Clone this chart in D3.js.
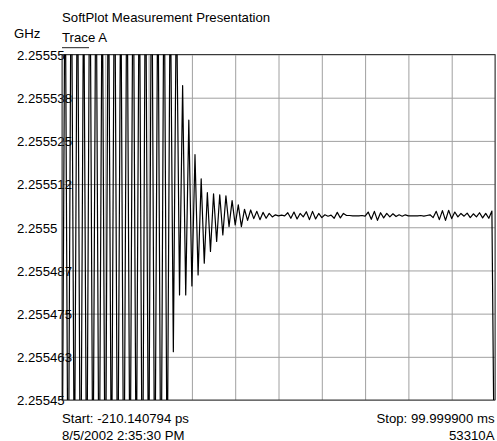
<!DOCTYPE html>
<html>
<head>
<meta charset="utf-8">
<script src="https://cdn.jsdelivr.net/npm/d3@7"></script>
<style>
  body { margin: 0; background: #fff; }
  text { font-family: "Liberation Sans", Arial, sans-serif; font-size: 13.2px; fill: #000; }
</style>
</head>
<body>
<script>
// trace header / footer text
var title = "SoftPlot Measurement Presentation",
    unitLabel = "GHz",
    traceName = "Trace A",
    startLabel = "Start: -210.140794 ps",
    stopLabel = "Stop: 99.999900 ms",
    dateLabel = "8/5/2002 2:35:30 PM",
    modelLabel = "53310A";

// time span of the record (ms)
var startMs = -210.140794e-9,
    stopMs = 99.9999;
var xGridMs = [0, 10, 20, 30, 40, 50, 60, 70, 80, 90, 100];

// y axis: GHz
var yDomain = [2.25545, 2.25555];
var yTickValues = [2.25555, 2.2555375, 2.255525, 2.2555125, 2.2555, 2.2554875, 2.255475, 2.2554625, 2.25545];
var yTickLabels = ["2.25555", "2.255538", "2.255525", "2.255512", "2.2555", "2.255487", "2.255475", "2.255463", "2.25545"];

// measured frequency, as offset in kHz from 2.2555 GHz, one value per sample
var centerGHz = 2.2555;
var traceKHz = [
  -88, 84, -92, 90, -80, 86, -95, 78, -86, 92,
  -84, 88, -90, 80, -93, 85, -82, 91, -88, 79,
  -91, 86, -85, 90, -80, 84, -94, 88, -83, 92,
  -87, 81, -90, 86, -78, 75, -36, 70, -19.6, 41,
  -19.6, 31, -17, 21, -13.8, 14, -10.4, 10, -7, 9.7,
  -4.1, 9.4, -2.2, 9.1, 0.2, 7.7, 0.7, 6.5, 0.2, 5.2,
  2, 5, 2.5, 4.6, 2.2, 4.3, 2.6, 4, 3, 3.6,
  3.3, 3.5, 3.3, 4.2, 2.6, 4.4, 2.4, 4, 3, 4.5,
  2.2, 4.6, 2.4, 4, 2.8, 3.6, 3.2, 3.5, 2.6, 4.3,
  2.7, 4, 3.4, 3.4, 3.3, 3.3, 3.3, 3.4, 3.2, 4.4,
  2.3, 4.6, 2, 4.2, 2.7, 4, 3, 3.9, 3.1, 3.6,
  3.2, 3.6, 3.3, 3.3, 3.3, 3.3, 3.4, 3.2, 3.4, 3.6,
  2.8, 4.6, 2.2, 4.8, 2, 4.9, 2.5, 4.4, 3, 4,
  3.2, 4.1, 2.8, 3.9, 3, 4.2, 2.7, 4, 2.6, 4.7,
  -95
];

var width = 497,
    height = 441,
    plotLeft = 62,
    plotRight = 495,
    plotTop = 54.5,
    plotBottom = 400;

var svg = d3.select("body").append("svg")
    .attr("width", width)
    .attr("height", height);

var x = d3.scaleLinear().domain([startMs, stopMs]).range([plotLeft, plotRight]);
var y = d3.scaleLinear().domain(yDomain).range([plotBottom, plotTop]);
var idx = d3.scaleLinear().domain([0, traceKHz.length - 1]).range([startMs, stopMs]);

// grid
var xGrid = svg.append("g")
    .attr("transform", "translate(0," + plotBottom + ")")
    .call(d3.axisBottom(x).tickValues(xGridMs).tickSize(-(plotBottom - plotTop)).tickFormat(""));
xGrid.select(".domain").remove();
xGrid.selectAll("line").attr("stroke", "#a0a0a0").attr("stroke-width", 1);

var yAxis = svg.append("g")
    .attr("transform", "translate(" + plotLeft + ",0)")
    .call(d3.axisLeft(y).tickValues(yTickValues).tickSize(-(plotRight - plotLeft))
        .tickFormat(function(d, i) { return yTickLabels[i]; }));
yAxis.select(".domain").remove();
yAxis.selectAll("line").attr("stroke", "#a0a0a0").attr("stroke-width", 1);
yAxis.selectAll("text")
    .attr("x", 17 - plotLeft)
    .attr("dy", "0.36em")
    .attr("text-anchor", "start")
    .attr("fill", "#000")
    .style("font-size", "13.2px")
    .style("font-family", "'Liberation Sans', Arial, sans-serif");

// plot frame
svg.append("rect")
    .attr("x", plotLeft).attr("y", plotTop)
    .attr("width", plotRight - plotLeft).attr("height", plotBottom - plotTop)
    .attr("fill", "none")
    .attr("stroke", "#3a3a3a")
    .attr("stroke-width", 1);

// trace
svg.append("clipPath").attr("id", "plotclip")
  .append("rect")
    .attr("x", plotLeft).attr("y", plotTop)
    .attr("width", plotRight - plotLeft).attr("height", plotBottom - plotTop);

var line = d3.line()
    .x(function(d, i) { return x(idx(i)); })
    .y(function(d) { return y(centerGHz + d * 1e-6); });

svg.append("path")
    .datum(traceKHz)
    .attr("clip-path", "url(#plotclip)")
    .attr("d", line)
    .attr("fill", "none")
    .attr("stroke", "#000")
    .attr("stroke-width", 1.2)
    .attr("stroke-linejoin", "round");

// labels
svg.append("text").attr("x", 62).attr("y", 21.7).text(title);
svg.append("text").attr("x", 14).attr("y", 38).text(unitLabel);
svg.append("text").attr("x", 62).attr("y", 42.3).text(traceName);
svg.append("line")
    .attr("x1", 62).attr("x2", 89)
    .attr("y1", 47.7).attr("y2", 47.7)
    .attr("stroke", "#222").attr("stroke-width", 1);

svg.append("text").attr("x", 62).attr("y", 422.7).text(startLabel);
svg.append("text").attr("x", 62).attr("y", 440).text(dateLabel);
svg.append("text").attr("x", 494.5).attr("y", 422.7).attr("text-anchor", "end").text(stopLabel);
svg.append("text").attr("x", 494.5).attr("y", 440).attr("text-anchor", "end").text(modelLabel);
</script>
</body>
</html>
